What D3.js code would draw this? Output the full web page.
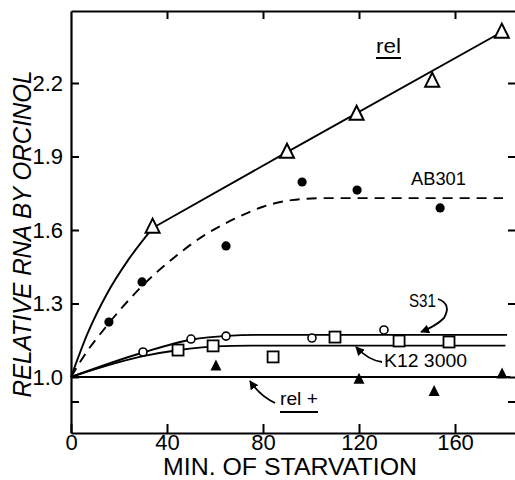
<!DOCTYPE html>
<html>
<head>
<meta charset="utf-8">
<script src="https://cdn.jsdelivr.net/npm/d3@7"></script>
<style>
	body { margin: 0; background: #fff; }
	text { font-family: "Liberation Sans", Arial, sans-serif; fill: #000; }
</style>
</head>
<body>
<div id="chart"></div>
<script>
// measured points (minutes, relative RNA)
var relMin = [34, 90, 119, 150.5, 179.5];
var relVal = [1.612, 1.918, 2.073, 2.208, 2.408];
var ab301Min = [15.8, 29.6, 64.6, 96.3, 119.2, 153.8];
var ab301Val = [1.224, 1.388, 1.535, 1.796, 1.763, 1.69];
var s31Min = [30, 50, 64.6, 100.4, 130.4];
var s31Val = [1.102, 1.155, 1.167, 1.159, 1.192];
var k12Min = [44.6, 59.2, 84.2, 110, 136.7, 157.5];
var k12Val = [1.11, 1.127, 1.082, 1.163, 1.147, 1.143];
var relPlusMin = [60.4, 120, 151.3, 179.6];
var relPlusVal = [1.045, 0.99, 0.94, 1.012];

// hand drawn fitted curves
// rel is drawn in two pieces: steep start, then near straight after 34 min
var relStartMin = [0, 7, 15, 24, 34];
var relStartVal = [1.0, 1.18, 1.34, 1.48, 1.608];
var relRestMin = [34, 90, 179.5];
var relRestVal = [1.608, 1.918, 2.408];
var abCurveMin = [0, 5, 15, 29, 42, 55, 68, 80, 92, 105, 180];
var abCurveVal = [1.0, 1.08, 1.21, 1.365, 1.48, 1.575, 1.645, 1.695, 1.722, 1.73, 1.73];
var s31CurveMin = [0, 30, 50, 65, 80, 181.7];
var s31CurveVal = [1.0, 1.10, 1.152, 1.168, 1.172, 1.172];
var k12CurveMin = [0, 30, 45, 60, 75, 181];
var k12CurveVal = [1.0, 1.085, 1.11, 1.125, 1.128, 1.128];
var relPlusCurveMin = [0, 183];
var relPlusCurveVal = [1.0, 1.0];

// axes
var xTicks = [0, 40, 80, 120, 160];
var yTicks = [0.9, 1.0, 1.3, 1.6, 1.9, 2.2];
var yLabelled = [1.0, 1.3, 1.6, 1.9, 2.2];

// frame edges in px (window.top is reserved, so prefixed names)
var W = 515, H = 480;
var frameL = 71, frameR = 516, frameT = 11, frameB = 433;

function zip(a, b) { return a.map((d, i) => [d, b[i]]); }

var svg = d3.select('#chart').append('svg')
	.attr('width', W)
	.attr('height', H);

var x = d3.scaleLinear().domain([0, (frameR - frameL) / 2.4]).range([frameL, frameR]);
var y = d3.scaleLinear().domain([1 - (frameB - 377) / 245, 1 + (377 - frameT) / 245]).range([frameB, frameT]);

// arrowhead
svg.append('defs').append('marker')
	.attr('id', 'arr')
	.attr('viewBox', '0 0 10 10')
	.attr('refX', 9).attr('refY', 5)
	.attr('markerWidth', 9).attr('markerHeight', 9)
	.attr('markerUnits', 'userSpaceOnUse')
	.attr('orient', 'auto')
	.append('path').attr('d', 'M0,0L10,5L0,10Z').attr('fill', '#000');

// frame: all ticks point inward
function styleAxis(g) {
	g.selectAll('.domain').attr('stroke', '#000').attr('stroke-width', 2.2);
	g.selectAll('.tick line').attr('stroke', '#000').attr('stroke-width', 2);
	g.selectAll('.tick text').style('font-size', '22px').attr('fill', '#000');
}

svg.append('g')
	.attr('transform', `translate(0,${frameB})`)
	.call(d3.axisBottom(x).tickValues(xTicks).tickSize(-9).tickSizeOuter(0).tickPadding(1))
	.call(styleAxis);

svg.append('g')
	.attr('transform', `translate(0,${frameT})`)
	.call(d3.axisTop(x).tickValues(xTicks.slice(1)).tickSize(-8).tickSizeOuter(0).tickFormat(''))
	.call(styleAxis);

svg.append('g')
	.attr('transform', `translate(${frameL},0)`)
	.call(d3.axisLeft(y).tickValues(yTicks).tickSize(-8).tickSizeOuter(0).tickPadding(8)
		.tickFormat(d => yLabelled.includes(d) ? d3.format('.1f')(d) : ''))
	.call(styleAxis);

svg.append('g')
	.attr('transform', `translate(${frameR},0)`)
	.call(d3.axisRight(y).tickValues(yTicks).tickSize(-8).tickSizeOuter(0).tickFormat(''))
	.call(styleAxis);

// axis titles
svg.append('text')
	.attr('x', 290).attr('y', 475)
	.attr('text-anchor', 'middle')
	.attr('textLength', 254).attr('lengthAdjust', 'spacingAndGlyphs')
	.style('font-size', '23px')
	.text('MIN. OF STARVATION');

svg.append('text')
	.attr('transform', 'translate(31,234) rotate(-90)')
	.attr('text-anchor', 'middle')
	.attr('textLength', 327).attr('lengthAdjust', 'spacingAndGlyphs')
	.style('font-size', '25px')
	.style('font-style', 'italic')
	.text('RELATIVE RNA BY ORCINOL');

// curves
var line = d3.line().x(d => x(d[0])).y(d => y(d[1])).curve(d3.curveMonotoneX);
var curves = [
	{ pts: zip(relStartMin, relStartVal), dash: null },
	{ pts: zip(relRestMin, relRestVal), dash: null },
	{ pts: zip(abCurveMin, abCurveVal), dash: '10,7' },
	{ pts: zip(s31CurveMin, s31CurveVal), dash: null },
	{ pts: zip(k12CurveMin, k12CurveVal), dash: null },
	{ pts: zip(relPlusCurveMin, relPlusCurveVal), dash: null }
];
svg.append('g').selectAll('path')
	.data(curves)
	.enter()
	.append('path')
	.attr('d', d => line(d.pts))
	.attr('fill', 'none')
	.attr('stroke', '#000')
	.attr('stroke-width', 1.9)
	.attr('stroke-dasharray', d => d.dash);

// markers
var tri = (s) => `M0,${-s * 0.6}L${s / 2},${s * 0.4}L${-s / 2},${s * 0.4}Z`;

svg.append('g').selectAll('path')
	.data(zip(relMin, relVal))
	.enter().append('path')
	.attr('d', tri(14))
	.attr('transform', d => `translate(${x(d[0])},${y(d[1])})`)
	.attr('fill', '#fff').attr('stroke', '#000').attr('stroke-width', 2);

svg.append('g').selectAll('path')
	.data(zip(relPlusMin, relPlusVal))
	.enter().append('path')
	.attr('d', tri(11))
	.attr('transform', d => `translate(${x(d[0])},${y(d[1])})`)
	.attr('fill', '#000');

svg.append('g').selectAll('circle')
	.data(zip(ab301Min, ab301Val))
	.enter().append('circle')
	.attr('cx', d => x(d[0])).attr('cy', d => y(d[1]))
	.attr('r', 4.6).attr('fill', '#000');

svg.append('g').selectAll('circle')
	.data(zip(s31Min, s31Val))
	.enter().append('circle')
	.attr('cx', d => x(d[0])).attr('cy', d => y(d[1]))
	.attr('r', 4).attr('fill', '#fff').attr('stroke', '#000').attr('stroke-width', 1.6);

svg.append('g').selectAll('rect')
	.data(zip(k12Min, k12Val))
	.enter().append('rect')
	.attr('x', d => x(d[0]) - 5.5).attr('y', d => y(d[1]) - 5.5)
	.attr('width', 11).attr('height', 11)
	.attr('fill', '#fff').attr('stroke', '#000').attr('stroke-width', 1.8);

// labels
function label(txt, lx, ly, size, len) {
	return svg.append('text')
		.attr('x', lx).attr('y', ly)
		.attr('textLength', len).attr('lengthAdjust', 'spacingAndGlyphs')
		.style('font-size', size + 'px')
		.text(txt);
}
label('rel', 376, 53, 21, 25);
label('AB301', 411, 185, 18, 55);
label('S31', 409, 307, 19, 27);
label('K12 3000', 384, 367, 19, 83);
label('rel +', 280, 405, 19, 38);

// underlines for the strain names
svg.append('line').attr('x1', 376).attr('x2', 401).attr('y1', 58).attr('y2', 58)
	.attr('stroke', '#000').attr('stroke-width', 2);
svg.append('line').attr('x1', 280).attr('x2', 318).attr('y1', 412).attr('y2', 412)
	.attr('stroke', '#000').attr('stroke-width', 2);

// pointer arrows
var arrows = [
	'M438,299 Q452,304 444,318 Q436,326 421,332',
	'M382,362 Q368,360 356,347',
	'M275,403 Q260,396 250,381'
];
svg.append('g').selectAll('path')
	.data(arrows)
	.enter().append('path')
	.attr('d', d => d)
	.attr('fill', 'none')
	.attr('stroke', '#000')
	.attr('stroke-width', 1.8)
	.attr('marker-end', 'url(#arr)');
</script>
</body>
</html>
